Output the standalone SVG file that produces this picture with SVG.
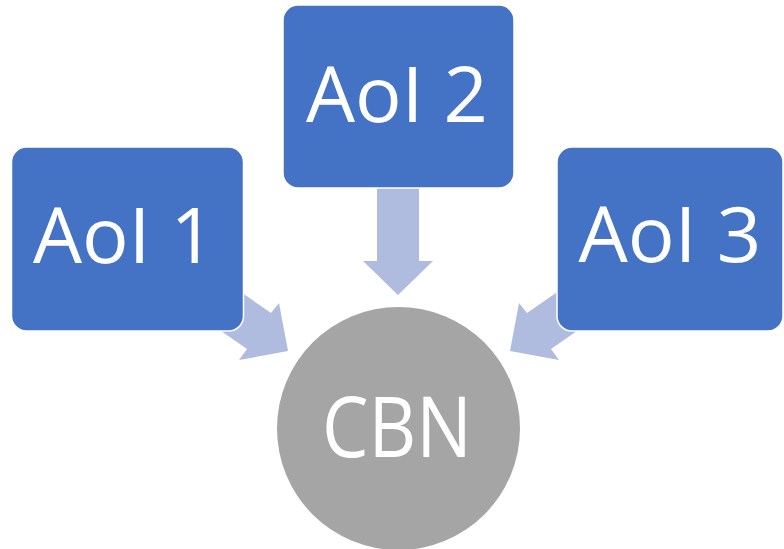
<svg xmlns="http://www.w3.org/2000/svg" width="784" height="549" viewBox="0 0 784 549">
<style>
.box{fill:#4472C4;stroke:#FFFFFF;stroke-width:1.5}
.arr{fill:#B0BCDF}
.lbl{font-family:"Open Sans","Liberation Sans","DejaVu Sans",sans-serif;fill:#FFFFFF;text-anchor:middle}
</style>
<rect width="784" height="549" fill="#FFFFFF"/>
<g id="connectors">
<polygon class="arr" points="222,279 271,313 279,303 288,351 239,360 247,349 198,315"/>
<polygon class="arr" points="576,279 527,313 519,303 510,351 559,360 551,349 600,315"/>
<polygon class="arr" points="377,180 419,180 419,261 433,261 398,295 363,261 377,261"/>
</g>
<g id="cbn">
<circle cx="398.5" cy="428.5" r="121.5" fill="#A5A5A5"/>
<text class="lbl" x="397" y="457" font-size="84" textLength="150" lengthAdjust="spacingAndGlyphs">CBN</text>
</g>
<g id="aoi1">
<rect class="box" x="11.5" y="147" width="232" height="184" rx="15"/>
<text class="lbl" x="124" y="263" font-size="77" textLength="182" lengthAdjust="spacingAndGlyphs">AoI 1</text>
</g>
<g id="aoi2">
<rect class="box" x="283" y="5" width="231" height="183" rx="15"/>
<text class="lbl" x="397" y="122" font-size="77" textLength="182" lengthAdjust="spacingAndGlyphs">AoI 2</text>
</g>
<g id="aoi3">
<rect class="box" x="557" y="147" width="226" height="184" rx="15"/>
<text class="lbl" x="670" y="262" font-size="77" textLength="183" lengthAdjust="spacingAndGlyphs">AoI 3</text>
</g>
</svg>
